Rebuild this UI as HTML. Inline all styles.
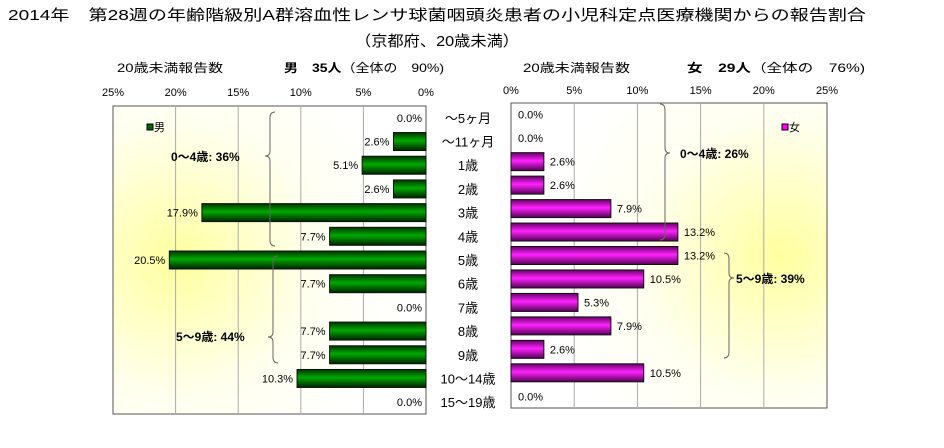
<!DOCTYPE html>
<html><head><meta charset="utf-8"><style>
body{margin:0;background:#fff;width:944px;height:443px;overflow:hidden}
svg{font-family:"Liberation Sans","Noto Sans CJK JP",sans-serif}
</style></head><body>
<svg width="944" height="443">
<defs>
<radialGradient id="bgL" cx="0.2" cy="0.5" r="0.75"><stop offset="0" stop-color="#ffffa0"/><stop offset="0.6" stop-color="#fffff0"/><stop offset="1" stop-color="#ffffff"/></radialGradient>
<radialGradient id="bgR" cx="0.85" cy="0.5" r="0.75"><stop offset="0" stop-color="#ffffa0"/><stop offset="0.6" stop-color="#fffff0"/><stop offset="1" stop-color="#ffffff"/></radialGradient>
<linearGradient id="gM" x1="0" y1="0" x2="0" y2="1"><stop offset="0" stop-color="#003300"/><stop offset="0.45" stop-color="#00aa00"/><stop offset="1" stop-color="#002200"/></linearGradient>
<linearGradient id="gF" x1="0" y1="0" x2="0" y2="1"><stop offset="0" stop-color="#660066"/><stop offset="0.45" stop-color="#ff22ff"/><stop offset="1" stop-color="#550055"/></linearGradient>
</defs>
<text x="8" y="20" font-size="15" textLength="858" lengthAdjust="spacingAndGlyphs">2014年　第28週の年齢階級別A群溶血性レンサ球菌咽頭炎患者の小児科定点医療機関からの報告割合</text>
<text x="355" y="46" font-size="15" textLength="164" lengthAdjust="spacingAndGlyphs">（京都府、20歳未満）</text>
<text x="117" y="72" font-size="12" textLength="106" lengthAdjust="spacingAndGlyphs">20歳未満報告数</text>
<text x="284" y="72" font-size="12" textLength="160" lengthAdjust="spacingAndGlyphs"><tspan font-weight="bold">男　35人</tspan>（全体の　90%)</text>
<text x="523" y="72" font-size="12" textLength="107" lengthAdjust="spacingAndGlyphs">20歳未満報告数</text>
<text x="687" y="72" font-size="12" textLength="178" lengthAdjust="spacingAndGlyphs"><tspan font-weight="bold">女　29人</tspan>（全体の　76%)</text>
<g id="chart"></g>
</svg>
<script>
const categories=["～5ヶ月","～11ヶ月","1歳","2歳","3歳","4歳","5歳","6歳","7歳","8歳","9歳","10～14歳","15～19歳"];
const maleValues=[0,2.6,5.1,2.6,17.9,7.7,20.5,7.7,0,7.7,7.7,10.3,0];
const femaleValues=[0,0,2.6,2.6,7.9,13.2,13.2,10.5,5.3,7.9,2.6,10.5,0];
const tickValues=[0,5,10,15,20,25];
const NS="http://www.w3.org/2000/svg";
const g=document.getElementById('chart');
function mk(t,a,txt){const e=document.createElementNS(NS,t);for(const k in a)e.setAttribute(k,a[k]);if(txt!==undefined)e.textContent=txt;g.appendChild(e);return e;}
const L={x0:426,w:313,top:106,bot:414};
const R={x0:511,w:316,top:103,bot:408};
const xL=v=>L.x0-v/25*L.w, xR=v=>R.x0+v/25*R.w;
const rowL=i=>L.top+(L.bot-L.top)/13*(i+0.5), rowR=i=>R.top+(R.bot-R.top)/13*(i+0.5);
let e;
e=mk('rect',{x:113,y:L.top,width:L.w,height:L.bot-L.top,fill:'url(#bgL)',stroke:'#555'});

e=mk('rect',{x:R.x0,y:R.top,width:R.w,height:R.bot-R.top,fill:'url(#bgR)',stroke:'#555'});

tickValues.forEach(t=>{
 if(t>0&&t<25){
  e=mk('line',{x1:xL(t),x2:xL(t),y1:L.top,y2:L.bot,stroke:'#aaa'});
  
  e=mk('line',{x1:xR(t),x2:xR(t),y1:R.top,y2:R.bot,stroke:'#aaa'});
  
 }
 e=mk('text',{x:xL(t),y:96,'font-size':11,'text-anchor':'middle'},t+'%');
 
 e=mk('text',{x:xR(t),y:94,'font-size':11,'text-anchor':'middle'},t+'%');
 
});
categories.forEach((c,i)=>{
 const yl=rowL(i), yr=rowR(i), mv=maleValues[i], fv=femaleValues[i];
 if(mv>0){e=mk('rect',{x:xL(mv),y:yl-9,width:L.x0-xL(mv),height:18,fill:'url(#gM)',stroke:'#111','stroke-width':1});
  }
 e=mk('text',{x:xL(mv)-4,y:yl+4,'font-size':11,'text-anchor':'end'},mv.toFixed(1)+'%');
 
 if(fv>0){e=mk('rect',{x:R.x0,y:yr-9,width:xR(fv)-R.x0,height:18,fill:'url(#gF)',stroke:'#111','stroke-width':1});
  }
 e=mk('text',{x:xR(fv)+(fv>0?6:7),y:yr+4,'font-size':11},fv.toFixed(1)+'%');
 
 e=mk('text',{x:468,y:yl+5,'font-size':13,'text-anchor':'middle'},c);
 
});
e=mk('rect',{x:147,y:124,width:6,height:6,fill:'#006600',stroke:'#000'});
e=mk('text',{x:154,y:131,'font-size':11},'男');
e=mk('rect',{x:782,y:124,width:6,height:6,fill:'#ff00ff',stroke:'#000'});
e=mk('text',{x:789,y:131,'font-size':11},'女');
function brace(x,y1,y2,tip,dir,name){const d=dir*5;
 e=mk('path',{d:`M${x+d},${y1} Q${x},${y1} ${x},${y1+6} L${x},${tip-5} Q${x},${tip} ${x-d},${tip} Q${x},${tip} ${x},${tip+5} L${x},${y2-6} Q${x},${y2} ${x+d},${y2}`,fill:'none',stroke:'#666'});
 }
brace(270,112,246,156,1,'male-0-4-brace');
brace(273,256,363,337,1,'male-5-9-brace');
brace(665,104,240,153,-1,'female-0-4-brace');
brace(729,253,358,278,-1,'female-5-9-brace');
e=mk('text',{x:171,y:161,'font-size':12,'font-weight':'bold'},'0～4歳: 36%');
e=mk('text',{x:176,y:341,'font-size':12,'font-weight':'bold'},'5～9歳: 44%');
e=mk('text',{x:680,y:158,'font-size':12,'font-weight':'bold'},'0～4歳: 26%');
e=mk('text',{x:736,y:283,'font-size':12,'font-weight':'bold'},'5～9歳: 39%');
</script>
</body></html>
